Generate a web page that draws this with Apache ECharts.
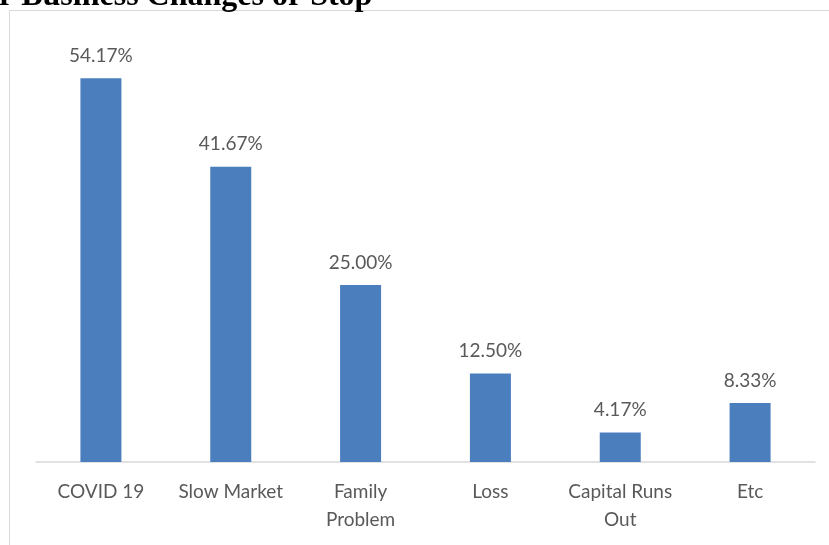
<!DOCTYPE html>
<html>
<head>
<meta charset="utf-8">
<script src="https://cdn.jsdelivr.net/npm/echarts@6/dist/echarts.min.js"></script>
<style>html,body{margin:0;padding:0;background:#fff;}#c{width:829px;height:545px;}</style>
</head>
<body>
<div id="c"></div>
<script>
const categories = ['COVID 19', 'Slow Market', 'Family\nProblem', 'Loss', 'Capital Runs\nOut', 'Etc'];
const values = [54.17, 41.67, 25.00, 12.50, 4.17, 8.33];
const titleText = 'r Business Changes or Stop';

const chart = echarts.init(document.getElementById('c'), null, {renderer: 'canvas'});
chart.setOption({
  animation: false,
  backgroundColor: '#ffffff',
  graphic: [
    {type: 'rect', shape: {x: 9.5, y: 10.5, width: 900, height: 700}, style: {fill: 'none', stroke: '#d9d9d9', lineWidth: 1}, z: 0},
    {type: 'text', left: -1, top: -19, style: {text: titleText, font: 'bold 32px "Liberation Serif", serif', fill: '#000'}, z: 10}
  ],
  grid: {left: 36, right: 14, top: 37, bottom: 83, containLabel: false},
  xAxis: {
    type: 'category',
    data: categories,
    axisLine: {show: true, lineStyle: {color: '#d9d9d9', width: 1.5}},
    axisTick: {show: false},
    axisLabel: {color: '#595959', fontFamily: 'Lato', fontSize: 19, margin: 16, lineHeight: 28, interval: 0}
  },
  yAxis: {
    type: 'value', min: 0, max: 60, show: false,
    splitLine: {show: false}
  },
  series: [{
    type: 'bar',
    data: values,
    barWidth: 41,
    itemStyle: {color: '#4a7ebd'},
    label: {
      show: true, position: 'top', distance: 13,
      color: '#595959', fontFamily: 'Lato', fontSize: 19,
      formatter: p => p.value.toFixed(2) + '%'
    }
  }]
});
</script>
</body>
</html>
